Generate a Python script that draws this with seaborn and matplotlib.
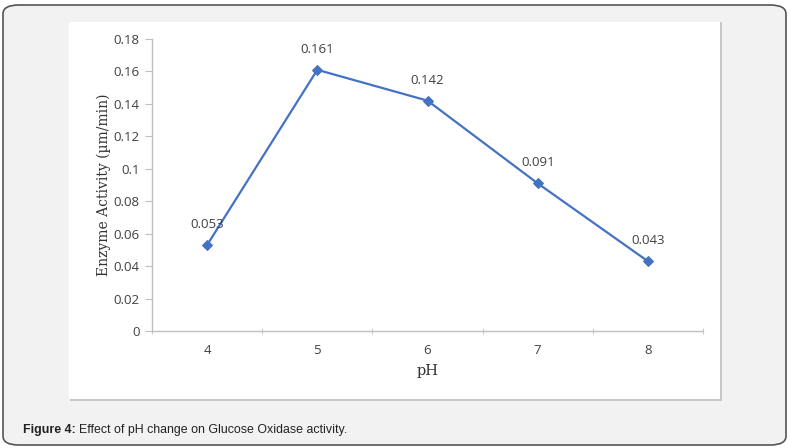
import numpy as np
import seaborn as sns
import matplotlib.pyplot as plt
import pandas as pd
from matplotlib.patches import FancyBboxPatch, Rectangle

ph = ["4", "5", "6", "7", "8"]
activity = [0.053, 0.161, 0.142, 0.091, 0.043]
labels = ["0.053", "0.161", "0.142", "0.091", "0.043"]

df = pd.DataFrame({"pos": np.arange(len(ph)), "activity": activity})

sns.set_style("white")
plt.rcParams['font.family'] = ['Open Sans', 'DejaVu Sans']

W, H = 790, 448
fig = plt.figure(figsize=(W / 100, H / 100), dpi=100)

# outer rounded frame
fig.patches.append(FancyBboxPatch((3 / W, 3 / H), 783 / W, 440 / H,
                                  boxstyle="round,pad=0,rounding_size=0.02",
                                  transform=fig.transFigure, facecolor="#f2f2f2",
                                  edgecolor="#555555", linewidth=1.2, zorder=0))
# white chart panel with shadow edge
fig.patches.append(Rectangle((70 / W, (H - 401) / H), 652 / W, 379 / H,
                             transform=fig.transFigure, facecolor="#c8c8c8",
                             edgecolor="none", zorder=1))
fig.patches.append(Rectangle((69 / W, (H - 399) / H), 651 / W, 377 / H,
                             transform=fig.transFigure, facecolor="white",
                             edgecolor="none", zorder=2))

ax = fig.add_axes([152 / W, (H - 331) / H, (703 - 152) / W, (331 - 39) / H])
ax.set_facecolor("none")
ax.set_zorder(3)

sns.lineplot(data=df, x="pos", y="activity", ax=ax, color="#4472c4",
             marker="D", markersize=5, markeredgecolor="#4472c4", linewidth=1.6)

for i, (v, t) in enumerate(zip(activity, labels)):
    ax.annotate(t, (i, v), xytext=(0, 10), textcoords="offset points",
                ha="center", va="bottom", fontsize=9.5, color="#404040")

ax.set_xlim(-0.5, len(ph) - 0.5)
ax.set_ylim(0, 0.18)
ax.set_yticks(np.arange(0, 0.181, 0.02))
ax.set_yticklabels(["0", "0.02", "0.04", "0.06", "0.08", "0.1", "0.12", "0.14", "0.16", "0.18"])
ax.set_xticks(np.arange(len(ph)))
ax.set_xticklabels(ph)
ax.set_xticks(np.arange(-0.5, len(ph)), minor=True)

for s in ["top", "right"]:
    ax.spines[s].set_visible(False)
for s in ["left", "bottom"]:
    ax.spines[s].set_color("#bfbfbf")
    ax.spines[s].set_linewidth(1.0)

ax.tick_params(axis="y", which="major", left=True, length=5, color="#bfbfbf",
               labelsize=9.5, labelcolor="#404040", pad=4)
ax.tick_params(axis="x", which="major", bottom=False, labelsize=9.5,
               labelcolor="#404040", pad=6)
ax.tick_params(axis="x", which="minor", bottom=True, length=4, color="#bfbfbf",
               direction="inout")

ax.set_xlabel("pH", family=["DejaVu Serif"], fontsize=10.5, color="#333333", labelpad=5)
ax.set_ylabel("Enzyme Activity (µm/min)", family=["DejaVu Serif"], fontsize=10,
              color="#333333", labelpad=2)

t1 = fig.text(23 / W, 1 - 430 / H, "Figure 4:", fontsize=8.9, fontweight="bold",
              family=["Liberation Sans"], color="#222222", va="center", ha="left")
plt.annotate("Effect of pH change on Glucose Oxidase activity.", xy=(1, 0.5),
             xycoords=t1, xytext=(2, 0), textcoords="offset points",
             fontsize=8.9, family=["Liberation Sans"], color="#222222",
             va="center", ha="left")

fig.savefig("out.png", dpi=100)
